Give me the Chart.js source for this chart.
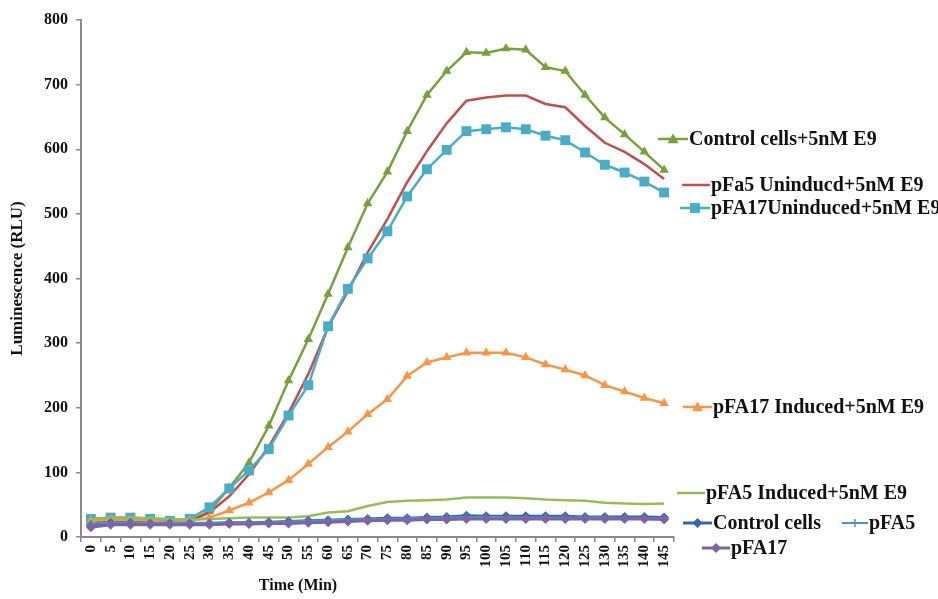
<!DOCTYPE html>
<html>
<head>
<meta charset="utf-8">
<script src="https://cdn.jsdelivr.net/npm/chart.js@4/dist/chart.umd.min.js"></script>
<style>
  html, body { margin: 0; padding: 0; background: #fff; }
  #wrap { width: 938px; height: 599px; position: relative; }
</style>
</head>
<body>
<div id="wrap"><canvas id="chart"></canvas></div>
<script>
// time points (min)
const times = [0, 5, 10, 15, 20, 25, 30, 35, 40, 45, 50, 55, 60, 65, 70, 75, 80, 85, 90, 95, 100, 105, 110, 115, 120, 125, 130, 135, 140, 145]
const yTicks = [0, 100, 200, 300, 400, 500, 600, 700, 800]

// luminescence readings (RLU)
const controlE9 = [27, 29, 29, 27, 25, 25, 40, 76, 115, 172, 242, 306, 376, 448, 516, 565, 628, 684, 721, 750, 749, 756, 754, 727, 721, 684, 649, 623, 596, 568]
const pFa5UninducedE9 = [22, 25, 25, 24, 23, 24, 38, 63, 97, 140, 192, 252, 325, 380, 440, 492, 549, 597, 640, 675, 680, 683, 683, 670, 665, 636, 610, 596, 577, 554]
const pFA17UninducedE9 = [28, 30, 30, 28, 25, 28, 46, 75, 103, 136, 188, 235, 326, 384, 431, 473, 527, 569, 599, 628, 631, 634, 631, 621, 614, 595, 576, 564, 550, 533]
const pFA17InducedE9 = [25, 27, 26, 25, 23, 25, 30, 41, 53, 69, 88, 113, 139, 163, 190, 213, 249, 270, 278, 285, 285, 285, 278, 267, 259, 250, 235, 225, 215, 207]
const pFA5InducedE9 = [27, 30, 30, 29, 28, 27, 28, 29, 30, 30, 30, 32, 38, 40, 48, 54, 56, 57, 58, 61, 61, 61, 60, 58, 57, 56, 53, 52, 51, 52]
const controlCells = [18, 22, 22, 21, 21, 21, 21, 22, 22, 23, 24, 25, 26, 27, 28, 29, 29, 30, 31, 33, 32, 32, 32, 32, 32, 31, 31, 31, 31, 30]
const pFA5 = [20, 23, 23, 22, 22, 22, 22, 22, 23, 23, 24, 25, 26, 27, 28, 28, 29, 29, 30, 31, 31, 31, 30, 30, 30, 30, 30, 29, 29, 29]
const pFA17 = [15, 19, 19, 19, 19, 19, 19, 20, 20, 21, 21, 22, 23, 24, 25, 26, 26, 27, 27, 28, 28, 28, 28, 28, 28, 28, 28, 28, 28, 27]

const seriesNames = [
  'Control cells+5nM E9',
  'pFa5 Uninducd+5nM E9',
  'pFA17Uninduced+5nM E9',
  'pFA17 Induced+5nM E9',
  'pFA5 Induced+5nM E9',
  'Control cells',
  'pFA5',
  'pFA17'
]

const serif = "'Liberation Serif', 'Times New Roman', serif"
const axisGray = '#8a8a8a'

const series = [
  { data: controlE9, color: '#76a13c', marker: 'triangle', radius: 5.5, width: 2.5, order: 8 },
  { data: pFa5UninducedE9, color: '#c0504d', marker: false, radius: 0, width: 2.5, order: 7 },
  { data: pFA17UninducedE9, color: '#4bacc6', marker: 'rect', radius: 7, width: 2.5, order: 6 },
  { data: pFA17InducedE9, color: '#f79646', marker: 'triangle', radius: 5.5, width: 2.5, order: 5 },
  { data: pFA5InducedE9, color: '#9bbb59', marker: false, radius: 0, width: 2.5, order: 4 },
  { data: controlCells, color: '#3466a6', marker: 'rectRot', radius: 5, width: 3, order: 3 },
  { data: pFA5, color: '#4a90d4', marker: 'cross', radius: 4, width: 2, order: 2 },
  { data: pFA17, color: '#8064a2', marker: 'rectRot', radius: 5, width: 3, order: 1 }
]

// where the labels sit, right of the plot (pixels)
const labelSpots = [
  { x1: 658, x2: 688, y: 139 },
  { x1: 682, x2: 710, y: 185 },
  { x1: 680, x2: 710, y: 208 },
  { x1: 683, x2: 712, y: 407 },
  { x1: 677, x2: 705, y: 493 },
  { x1: 683, x2: 712, y: 523 },
  { x1: 842, x2: 868, y: 523 },
  { x1: 702, x2: 730, y: 548 }
]

const drawMarker = (ctx, style, x, y, r, color) => {
  ctx.save()
  ctx.fillStyle = color
  ctx.strokeStyle = color
  ctx.beginPath()
  if (style === 'triangle') {
    ctx.moveTo(x, y - r)
    ctx.lineTo(x + r, y + r * 0.75)
    ctx.lineTo(x - r, y + r * 0.75)
    ctx.closePath()
    ctx.fill()
  } else if (style === 'rect') {
    const s = r * Math.SQRT1_2
    ctx.rect(x - s, y - s, 2 * s, 2 * s)
    ctx.fill()
  } else if (style === 'rectRot') {
    ctx.moveTo(x, y - r)
    ctx.lineTo(x + r, y)
    ctx.lineTo(x, y + r)
    ctx.lineTo(x - r, y)
    ctx.closePath()
    ctx.fill()
  } else if (style === 'cross') {
    ctx.lineWidth = 1.5
    ctx.moveTo(x, y - r)
    ctx.lineTo(x, y + r)
    ctx.stroke()
  }
  ctx.restore()
}

const sideLabels = {
  id: 'sideLabels',
  afterDraw: chart => {
    const ctx = chart.ctx
    ctx.save()
    series.forEach((s, i) => {
      const spot = labelSpots[i]
      ctx.strokeStyle = s.color
      ctx.lineWidth = s.width
      ctx.beginPath()
      ctx.moveTo(spot.x1, spot.y)
      ctx.lineTo(spot.x2, spot.y)
      ctx.stroke()
      if (s.marker) drawMarker(ctx, s.marker, (spot.x1 + spot.x2) / 2, spot.y, s.radius, s.color)
      ctx.fillStyle = '#111'
      ctx.font = `bold 20px ${serif}`
      ctx.textAlign = 'left'
      ctx.textBaseline = 'middle'
      ctx.fillText(seriesNames[i], spot.x2 + 1, spot.y + 1)
    })
    // x axis title, sits left of the plot centre like the original
    ctx.font = `bold 16px ${serif}`
    ctx.textAlign = 'center'
    ctx.textBaseline = 'middle'
    ctx.fillText('Time (Min)', 298, 586)
    ctx.restore()
  }
}

const datasets = series.map((s, i) => ({
  label: seriesNames[i],
  data: s.data,
  borderColor: s.color,
  backgroundColor: s.color,
  borderWidth: s.width,
  pointStyle: s.marker || 'circle',
  pointRadius: s.radius,
  pointBorderWidth: s.marker === 'cross' ? 1.5 : 0,
  pointBackgroundColor: s.color,
  pointBorderColor: s.color,
  tension: 0,
  order: s.order
}))

new Chart(document.getElementById('chart'), {
  type: 'line',
  data: { labels: times, datasets },
  options: {
    responsive: true,
    maintainAspectRatio: false,
    animation: false,
    devicePixelRatio: 1,
    layout: { padding: { left: 0, top: 20, right: 264, bottom: 0 } },
    plugins: { legend: { display: false }, tooltip: { enabled: false } },
    scales: {
      x: {
        type: 'category',
        offset: true,
        afterFit: scale => { scale.height = 62 },
        border: { display: true, color: axisGray, width: 2 },
        grid: { display: true, offset: true, drawOnChartArea: false, drawTicks: true, tickLength: 5, color: axisGray, lineWidth: 1.5 },
        ticks: {
          autoSkip: false,
          maxRotation: 90,
          minRotation: 90,
          padding: 3,
          color: '#111',
          font: { family: serif, size: 15, weight: 'bold' }
        }
      },
      y: {
        min: 0,
        max: 800,
        afterFit: scale => { scale.width = 81 },
        afterBuildTicks: scale => { scale.ticks = yTicks.map(v => ({ value: v })) },
        border: { display: true, color: axisGray, width: 2 },
        grid: { display: true, drawOnChartArea: false, drawTicks: true, tickLength: 5, color: axisGray, lineWidth: 1.5 },
        ticks: {
          padding: 8,
          color: '#111',
          font: { family: serif, size: 16, weight: 'bold' }
        },
        title: {
          display: true,
          text: 'Luminescence (RLU)',
          color: '#111',
          padding: { top: 7, bottom: 0 },
          font: { family: serif, size: 17, weight: 'bold' }
        }
      }
    }
  },
  plugins: [sideLabels]
})
</script>
</body>
</html>
